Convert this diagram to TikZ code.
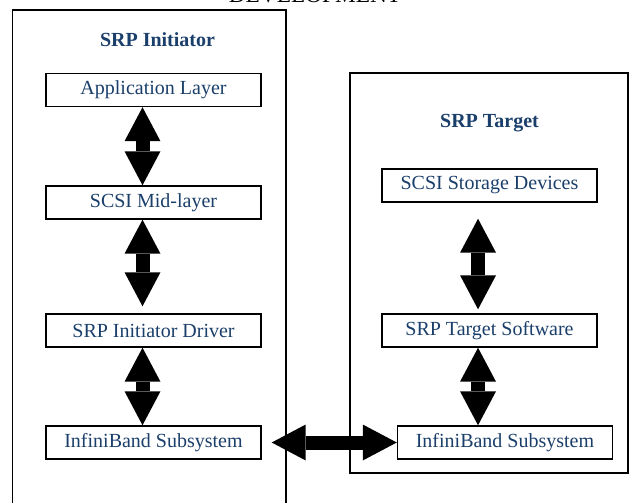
\documentclass[tikz,border=0pt]{standalone}
\usepackage{fontspec}
\setmainfont{Liberation Serif}
\usepackage{tikz}
\usetikzlibrary{arrows.meta,positioning,calc}
\definecolor{ink}{HTML}{000000}
\definecolor{navy}{HTML}{1B3F6B}
\tikzset{
  layerbox/.style={draw=ink,fill=white,line width=1.1pt,
                   minimum width=161.25pt,minimum height=24.75pt,
                   inner sep=0pt,font=\fontsize{15}{18}\selectfont,text=navy},
  sidetitle/.style={inner sep=0pt,font=\fontsize{15}{18}\selectfont\bfseries,text=navy},
  outerframe/.style={draw=ink,line width=1pt},
  fatarr/.style={{Triangle[length=25.5pt,width=27pt,line width=0pt]}-{Triangle[length=25.5pt,width=27pt,line width=0pt]},
                 line width=10.5pt,color=ink}
}

\begin{document}
\begin{tikzpicture}[x=0.75pt,y=-0.75pt]
  \useasboundingbox (0,0) rectangle (629,503);
  \clip (0,0) rectangle (629,503);

  \node[anchor=base,inner sep=0pt,font=\fontsize{17.5}{20}\selectfont] (dev) at (315,3) {DEVELOPMENT};

  \draw[outerframe] (12.5,10) rectangle (286,530);
  \draw[outerframe] (350,73) rectangle (628,473);

  \node[sidetitle] (initt) at (157.5,40) {SRP Initiator};
  \node[sidetitle] (targt) at (489.5,123) {SRP Target};

  \node[layerbox] (app) at (153.5,90) {Application Layer};
  \node[layerbox] (mid) at (153.5,202.5) {SCSI Mid-layer};
  \node[layerbox] (drv) at (153.5,330.5) {SRP Initiator Driver};
  \node[layerbox] (ibl) at (153.5,442.5) {InfiniBand Subsystem};

  \node[layerbox] (stor) at (489.5,185.5) {SCSI Storage Devices};
  \node[layerbox] (tsw) at (489.5,330.5) {SRP Target Software};
  \node[layerbox] (ibr) at (505,442.5) {InfiniBand Subsystem};

  \draw[fatarr] ([xshift=-8.25pt]app.south) -- ([xshift=-8.25pt]mid.north);
  \draw[fatarr,shorten >=5.25pt] ([xshift=-8.25pt]mid.south) -- ([xshift=-8.25pt]drv.north);
  \draw[fatarr] ([xshift=-8.25pt]drv.south) -- ([xshift=-8.25pt]ibl.north);

  \draw[fatarr,shorten <=12pt,shorten >=3pt] ([xshift=-8.6pt]stor.south) -- ([xshift=-8.6pt]tsw.north);
  \coordinate (tswfoot) at ([xshift=-8.6pt]tsw.south);
  \draw[fatarr] (tswfoot) -- (tswfoot |- ibr.north);

  \draw[fatarr,shorten <=7.5pt] (ibl.east) -- (ibr.west);
\end{tikzpicture}
\end{document}
